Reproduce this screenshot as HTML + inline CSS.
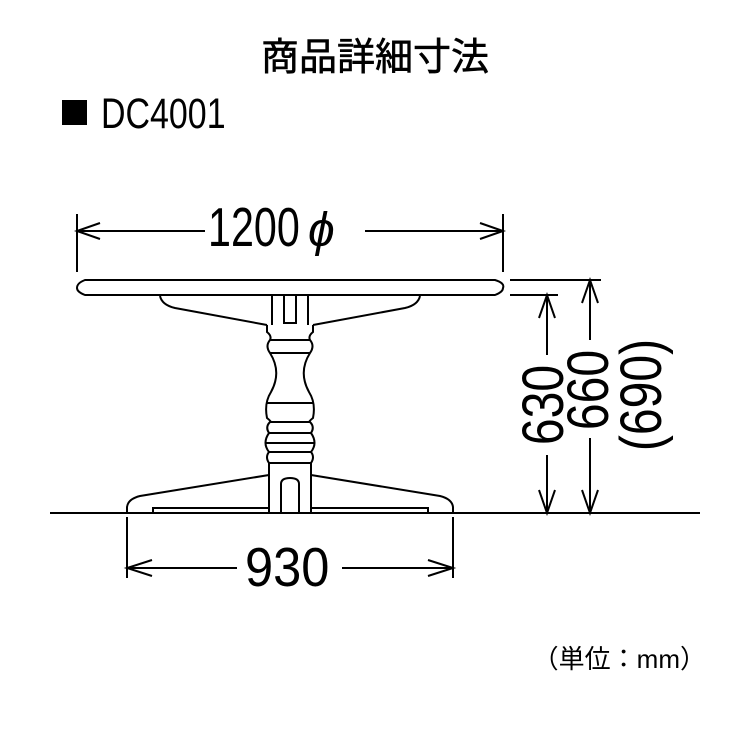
<!DOCTYPE html>
<html><head><meta charset="utf-8"><style>
html,body{margin:0;padding:0;background:#fff;}
svg{display:block;}
text{font-family:"Liberation Sans","Noto Sans CJK JP",sans-serif;fill:#000;}
</style></head><body>
<svg width="750" height="750" viewBox="0 0 750 750" xmlns="http://www.w3.org/2000/svg">
<text x="375" y="70" font-size="38" text-anchor="middle" font-family="Noto Sans CJK JP, sans-serif" stroke="#000" stroke-width="0.6">商品詳細寸法</text>
<rect x="62" y="100" width="25" height="25" fill="#000"/>
<text x="101" y="128" font-size="43" transform="translate(101 0) scale(0.79 1) translate(-101 0)">DC4001</text>

<g stroke="#000" stroke-width="2" fill="none">
<line x1="77" y1="214" x2="77" y2="272"/>
<line x1="503" y1="214" x2="503" y2="272"/>
<line x1="77" y1="231" x2="205" y2="231"/>
<line x1="365" y1="231" x2="503" y2="231"/>
<polyline points="100,223 77,231 100,239"/>
<polyline points="480,223 503,231 480,239"/>
<path d="M85,280 H495 Q505,283 503,288 Q503,292 495,295 H85 Q77,292 77,288 Q77,283 85,280 Z"/>
<path d="M160,296 Q162,305 175,308 L267,325 M313,325 L405,308 Q418,305 420,296"/>
<path d="M272,296 V325 M308,296 V325"/>
<path d="M284,296 V323 H296 V296"/>
<path d="M267,325 V332 Q272,336 270,340 Q265,346 270,353 Q282,372 271,392 Q264,403 267,418 Q272,422 270,422 Q265,427 269,433 Q262,443 269,452 Q265,457 269,463 H311 Q315,457 311,452 Q318,443 311,433 Q315,427 310,422 Q308,422 313,418 Q316,403 309,392 Q298,372 310,353 Q315,346 310,340 Q308,336 313,332 V325"/>
<path d="M270,340 H310 M270,353 H310 M266,403 H314 M270,422 H310 M269,433 H311 M265,443 H315 M269,452 H311"/>
<path d="M269,463 V513 M311,463 V513"/>
<path d="M281,513 V484 Q281,478 290,478 Q299,478 299,484 V513"/>
<path d="M269,475 L140,496 Q128,499 127,507 V513"/>
<path d="M311,475 L440,496 Q452,499 453,507 V513"/>
<path d="M153,513 V508 H269 M311,508 H428 V513"/>
<line x1="50" y1="513" x2="700" y2="513"/>
<line x1="127" y1="517" x2="127" y2="578"/>
<line x1="453" y1="517" x2="453" y2="578"/>
<line x1="127" y1="568" x2="237" y2="568"/>
<line x1="342" y1="568" x2="453" y2="568"/>
<polyline points="152,560 127,568 152,576"/>
<polyline points="428,560 453,568 428,576"/>
<line x1="510" y1="280" x2="601" y2="280"/>
<line x1="510" y1="295" x2="558" y2="295"/>
<line x1="547" y1="295" x2="547" y2="355"/>
<line x1="547" y1="455" x2="547" y2="513"/>
<polyline points="539,318 547,295 555,318"/>
<polyline points="539,490 547,513 555,490"/>
<line x1="590" y1="280" x2="590" y2="340"/>
<line x1="590" y1="438" x2="590" y2="513"/>
<polyline points="582,303 590,280 598,303"/>
<polyline points="582,490 590,513 598,490"/>
</g>

<text x="0" y="0" font-size="55" transform="translate(208 246) scale(0.75 1)">1200</text>
<text x="0" y="0" font-size="48" font-style="italic" transform="translate(308 246)">ϕ</text>
<text x="0" y="0" font-size="55" transform="translate(245 586) scale(0.92 1)">930</text>

<text font-size="58" text-anchor="middle" transform="translate(563 405) rotate(-90) scale(0.83 1)">630</text>
<text font-size="58" text-anchor="middle" transform="translate(608 390) rotate(-90) scale(0.83 1)">660</text>
<text font-size="58" text-anchor="middle" transform="translate(661 395) rotate(-90) scale(0.83 1)">(690)</text>

<text x="706" y="668" font-size="26" text-anchor="end">（単位：mm）</text>
</svg>
</body></html>
